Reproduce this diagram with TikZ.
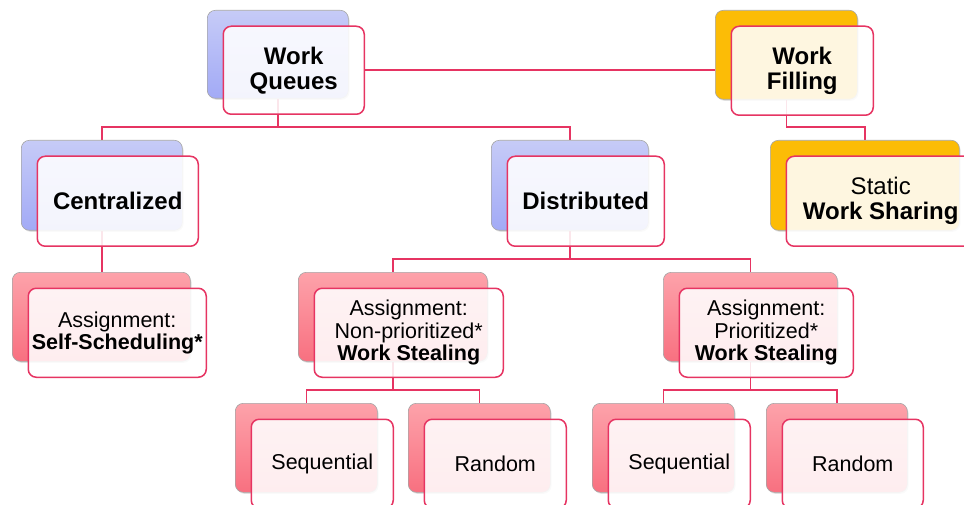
\documentclass[tikz,border=0pt]{standalone}
\usepackage{fontspec}
\setmainfont{Liberation Sans}
\usetikzlibrary{calc,backgrounds,shadows}

\definecolor{linkred}{RGB}{230,52,98}
\definecolor{blueTop}{RGB}{198,203,247}
\definecolor{blueBot}{RGB}{162,170,246}
\definecolor{pinkTop}{RGB}{253,162,170}
\definecolor{pinkBot}{RGB}{248,112,128}
\definecolor{goldFill}{RGB}{252,188,6}

\tikzset{
  back/.style={anchor=north west, rounded corners=8pt, draw=black!35,
    line width=0.6pt, inner sep=0pt,
    drop shadow={shadow xshift=1.2pt, shadow yshift=-1.5pt, opacity=0.25}},
  bluebk/.style={top color=blueTop, bottom color=blueBot},
  pinkbk/.style={top color=pinkTop, bottom color=pinkBot},
  goldbk/.style={fill=goldFill},
  front/.style={anchor=north west, rounded corners=8pt, draw=linkred,
    line width=1.5pt, fill=white, fill opacity=0.88, text opacity=1,
    inner sep=0pt, align=center, text=black},
  ttl/.style={font=\fontsize{24}{25}\selectfont},
  sml/.style={font=\fontsize{21.5}{22.5}\selectfont},
  link/.style={draw=linkred, line width=1.5pt},
}

% #1 name, #2 x, #3 y, #4 width, #5 height, #6 back style, #7 font style, #8 text
\newcommand\wcard[8]{%
  \node[back,#6,minimum width=#4pt,minimum height=#5pt] (#1-b) at (#2,#3) {};
  \node[front,#7,minimum width=#4pt,minimum height=#5pt] (#1)
    at ($(#1-b.north west)+(15.5,15.5)$) {#8};
}

\begin{document}
\begin{tikzpicture}[x=1pt,y=-1pt]
\useasboundingbox (0,0) rectangle (964,505);
\clip (0,0) rectangle (964,505);

% cards
\wcard{wq}{207}{10}{141}{88}{bluebk}{ttl}{\bfseries Work\\\bfseries Queues}
\wcard{wf}{715}{10}{142}{89}{goldbk}{ttl}{\bfseries Work\\\bfseries Filling}
\wcard{sws}{770}{140}{189}{90}{goldbk}{ttl}{Static\\\textbf{Work Sharing}}
\wcard{cen}{21}{140}{161}{90}{bluebk}{ttl}{\bfseries Centralized}
\wcard{dis}{491}{140}{157}{90}{bluebk}{ttl}{\bfseries Distributed}
\wcard{ss}{12}{272}{178}{89}{pinkbk}{sml}{Assignment:\\\textbf{Self-Scheduling*}}
\wcard{np}{298}{272}{189}{89}{pinkbk}{sml}{Assignment:\\Non-prioritized*\\\textbf{Work Stealing}}
\wcard{pr}{663}{272}{174}{89}{pinkbk}{sml}{Assignment:\\Prioritized*\\\textbf{Work Stealing}}
\wcard{sa}{235}{403}{142}{89}{pinkbk}{sml}{Sequential}
\wcard{ra}{408}{403}{142}{89}{pinkbk}{sml}{Random}
\wcard{sb}{592}{403}{142}{89}{pinkbk}{sml}{Sequential}
\wcard{rb}{766}{403}{141}{89}{pinkbk}{sml}{Random}

% connectors, kept beneath the cards
\begin{pgfonlayer}{background}
  \coordinate (busA) at (0,127);
  \coordinate (busB) at (0,259);
  \coordinate (busC) at (0,390);
  \draw[link] (wq.east) -- (wq.east -| wf-b.west);
  \draw[link] (wq-b.south) -- (wq-b.south |- busA) -| (cen-b.north);
  \draw[link] (wq-b.south |- busA) -| (dis-b.north);
  \draw[link] (wf-b.south) -- (wf-b.south |- busA) -| (sws-b.north);
  \draw[link] (cen-b.south) -- (cen-b.south |- ss-b.north);
  \draw[link] (dis-b.south) -- (dis-b.south |- busB) -| (np-b.north);
  \draw[link] (dis-b.south |- busB) -| (pr-b.north);
  \draw[link] (np-b.south) -- (np-b.south |- busC) -| (sa-b.north);
  \draw[link] (np-b.south |- busC) -| (ra-b.north);
  \draw[link] (pr-b.south) -- (pr-b.south |- busC) -| (sb-b.north);
  \draw[link] (pr-b.south |- busC) -| (rb-b.north);
\end{pgfonlayer}
\end{tikzpicture}
\end{document}
